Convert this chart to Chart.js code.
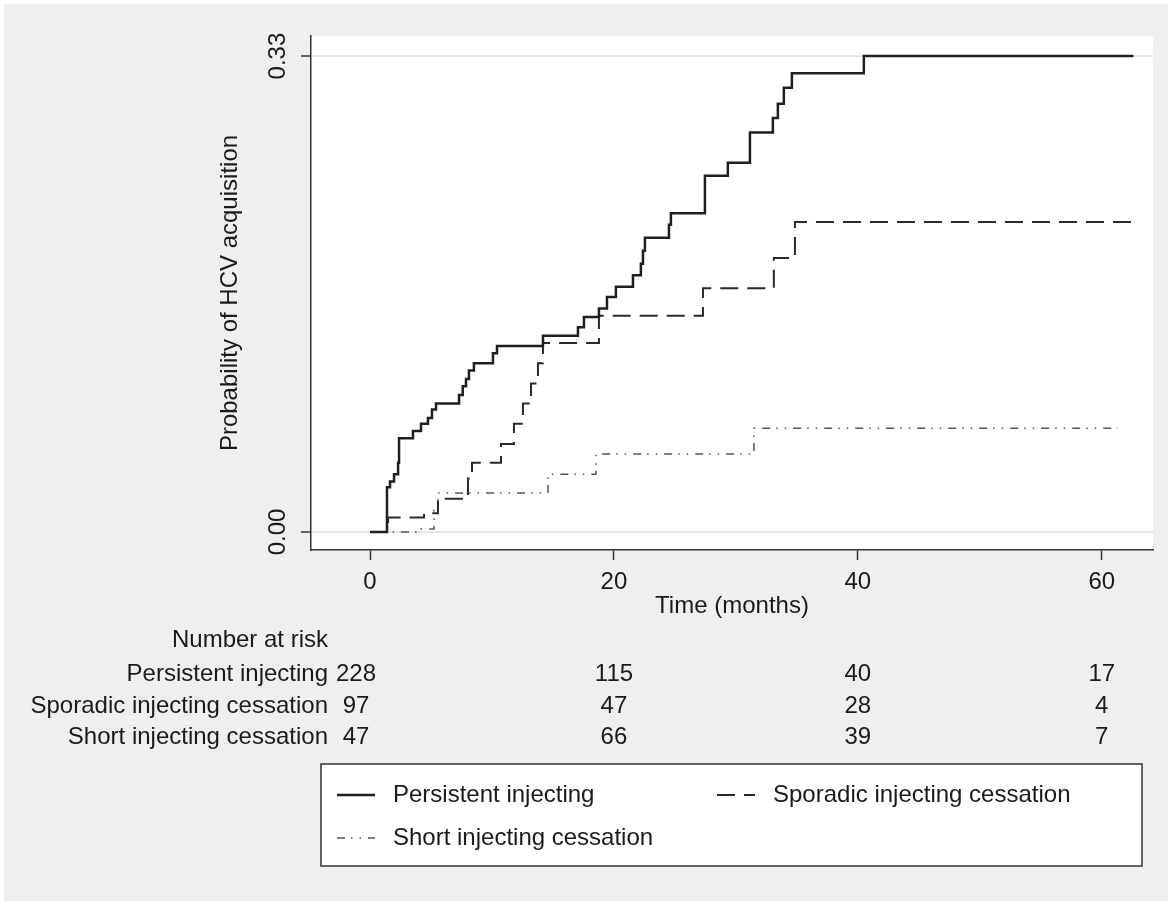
<!DOCTYPE html>
<html>
<head>
<meta charset="utf-8">
<script src="https://cdn.jsdelivr.net/npm/chart.js@4.4.1/dist/chart.umd.min.js"></script>
<style>
  html, body { margin: 0; padding: 0; background: #fff; }
  #wrap { width: 1172px; height: 905px; }
</style>
</head>
<body>
<div id="wrap"><canvas id="grafico" width="1172" height="905"></canvas></div>
<script>
// Kaplan-Meier steps (time in months, cumulative probability)
const persistentTime = [0, 1.39, 1.64, 1.97, 2.30, 2.38, 3.52, 4.18, 4.75, 5.08, 5.41, 7.30, 7.60, 7.87, 8.11, 8.52, 10.08, 10.41, 14.18, 17.05, 17.54, 18.77, 19.43, 20.16, 21.56, 22.21, 22.38, 22.54, 24.51, 24.67, 27.46, 29.34, 31.15, 33.03, 33.44, 33.93, 34.59, 40.49, 62.6];
const persistentProb = [0, 0.031, 0.035, 0.040, 0.048, 0.065, 0.070, 0.075, 0.079, 0.085, 0.089, 0.095, 0.101, 0.106, 0.112, 0.117, 0.124, 0.129, 0.136, 0.142, 0.149, 0.155, 0.163, 0.170, 0.178, 0.186, 0.195, 0.204, 0.213, 0.221, 0.247, 0.256, 0.277, 0.287, 0.297, 0.308, 0.318, 0.330, 0.330];

const sporadicTime = [0, 1.48, 4.43, 5.57, 8.03, 8.36, 10.74, 11.80, 12.54, 13.20, 13.77, 14.18, 18.77, 27.30, 33.11, 34.84, 62.6];
const sporadicProb = [0, 0.010, 0.013, 0.023, 0.037, 0.048, 0.061, 0.075, 0.089, 0.103, 0.117, 0.131, 0.150, 0.169, 0.190, 0.215, 0.215];

const shortTime = [0, 4.18, 5.25, 5.57, 14.59, 18.52, 31.48, 61.3];
const shortProb = [0, 0.002, 0.015, 0.027, 0.040, 0.054, 0.072, 0.072];

const seriesNames = ["Persistent injecting", "Sporadic injecting cessation", "Short injecting cessation"];

const xTicks = [0, 20, 40, 60];
const yTicks = [0, 0.33];
const yTickLabels = ["0.00", "0.33"];

// number at risk, one row per group, one column per x tick
const riskTimes = [0, 20, 40, 60];
const riskPersistent = [228, 115, 40, 17];
const riskSporadic = [97, 47, 28, 4];
const riskShort = [47, 66, 39, 7];

const FONTE = "Liberation Sans, Arial, Helvetica, sans-serif";
const TEXTO = "#1a1a1a";
const FUNDO = "#efefef";

function pontos(tempos, probs) {
  return tempos.map((t, i) => ({ x: t, y: probs[i] }));
}

const fundoPlugin = {
  id: "fundo",
  beforeDraw(chart) {
    const { ctx, width, height, chartArea } = chart;
    ctx.save();
    ctx.fillStyle = "#ffffff";
    ctx.fillRect(0, 0, width, height);
    ctx.fillStyle = FUNDO;
    ctx.fillRect(4, 4, width - 8, height - 8);
    ctx.fillStyle = "#ffffff";
    ctx.fillRect(chartArea.left, chartArea.top, chartArea.right - chartArea.left, chartArea.bottom - chartArea.top);
    ctx.restore();
  }
};

const extrasPlugin = {
  id: "extras",
  afterDraw(chart) {
    const { ctx, chartArea } = chart;
    const xs = chart.scales.x;
    const ys = chart.scales.y;
    ctx.save();
    ctx.font = `24px ${FONTE}`;
    ctx.fillStyle = TEXTO;

    // rotated y tick labels
    yTicks.forEach((v, i) => {
      const py = ys.getPixelForValue(v);
      ctx.save();
      ctx.translate(278, py);
      ctx.rotate(-Math.PI / 2);
      ctx.textAlign = "center";
      ctx.textBaseline = "middle";
      ctx.fillText(yTickLabels[i], 0, 0);
      ctx.restore();
    });

    // number at risk table
    const rotuloX = 328;
    ctx.textBaseline = "middle";
    ctx.textAlign = "right";
    ctx.fillText("Number at risk", rotuloX, 640);
    const linhas = [riskPersistent, riskSporadic, riskShort];
    const linhasY = [674, 706, 737];
    linhas.forEach((valores, r) => {
      ctx.textAlign = "right";
      ctx.fillText(seriesNames[r], rotuloX, linhasY[r]);
      ctx.textAlign = "center";
      valores.forEach((n, j) => {
        let px = xs.getPixelForValue(riskTimes[j]);
        if (j === 0) px -= 14;
        ctx.fillText(String(n), px, linhasY[r]);
      });
    });

    // legend box
    const caixaX = chartArea.left + 10;
    const caixaW = chartArea.right - chartArea.left - 21;
    ctx.fillStyle = "#ffffff";
    ctx.fillRect(caixaX, 764, caixaW, 102);
    ctx.strokeStyle = "#333";
    ctx.lineWidth = 1.5;
    ctx.strokeRect(caixaX, 764, caixaW, 102);

    const itens = [{ x: 337, y: 795 }, { x: 717, y: 795 }, { x: 337, y: 838 }];
    chart.data.datasets.forEach((ds, i) => {
      const pos = itens[i];
      ctx.beginPath();
      ctx.setLineDash(ds.borderDash || []);
      ctx.strokeStyle = ds.borderColor;
      ctx.lineWidth = ds.borderWidth;
      ctx.moveTo(pos.x, pos.y);
      ctx.lineTo(pos.x + 38, pos.y);
      ctx.stroke();
      ctx.setLineDash([]);
      ctx.fillStyle = TEXTO;
      ctx.textAlign = "left";
      ctx.textBaseline = "middle";
      ctx.fillText(ds.label, pos.x + 56, pos.y);
    });
    ctx.restore();
  }
};

const ctx = document.getElementById("grafico").getContext("2d");

new Chart(ctx, {
  type: "line",
  data: {
    datasets: [
      {
        label: seriesNames[0],
        data: pontos(persistentTime, persistentProb),
        borderColor: "#1f1f1f",
        borderWidth: 2.5,
        borderDash: [],
        stepped: "before",
        pointRadius: 0,
        fill: false
      },
      {
        label: seriesNames[1],
        data: pontos(sporadicTime, sporadicProb),
        borderColor: "#2a2a2a",
        borderWidth: 2,
        borderDash: [18, 9],
        stepped: "before",
        pointRadius: 0,
        fill: false
      },
      {
        label: seriesNames[2],
        data: pontos(shortTime, shortProb),
        borderColor: "#555555",
        borderWidth: 1.5,
        borderDash: [8, 6, 1.5, 7, 1.5, 7],
        stepped: "before",
        pointRadius: 0,
        fill: false
      }
    ]
  },
  options: {
    responsive: false,
    animation: false,
    layout: { padding: { left: 0, right: 19, top: 36, bottom: 289 } },
    plugins: {
      legend: { display: false },
      tooltip: { enabled: false }
    },
    scales: {
      x: {
        type: "linear",
        min: -4.84,
        max: 64.2,
        afterBuildTicks: (s) => { s.ticks = xTicks.map((v) => ({ value: v })); },
        afterFit: (s) => { s.height = 66; },
        ticks: {
          font: { family: FONTE, size: 24 },
          color: TEXTO,
          padding: 8,
          maxRotation: 0,
          autoSkip: false,
          callback: (v) => String(v)
        },
        grid: { drawOnChartArea: false, tickLength: 10, tickColor: "#333", tickWidth: 1.5 },
        border: { color: "#333", width: 1.5 },
        title: {
          display: true,
          text: "Time (months)",
          color: TEXTO,
          font: { family: FONTE, size: 24, lineHeight: 0.8 },
          padding: { top: 0, bottom: 0 }
        }
      },
      y: {
        type: "linear",
        min: -0.0125,
        max: 0.3439,
        afterBuildTicks: (s) => { s.ticks = yTicks.map((v) => ({ value: v })); },
        afterFit: (s) => { s.width = 311; },
        ticks: { display: false },
        grid: { color: "#e6e6e6", lineWidth: 2, tickLength: 10, tickColor: "#333", tickWidth: 1.5 },
        border: { color: "#333", width: 1.5 },
        title: {
          display: true,
          text: "Probability of HCV acquisition",
          color: TEXTO,
          font: { family: FONTE, size: 24 },
          padding: { top: 216, bottom: 0 }
        }
      }
    }
  },
  plugins: [fundoPlugin, extrasPlugin]
});
</script>
</body>
</html>
